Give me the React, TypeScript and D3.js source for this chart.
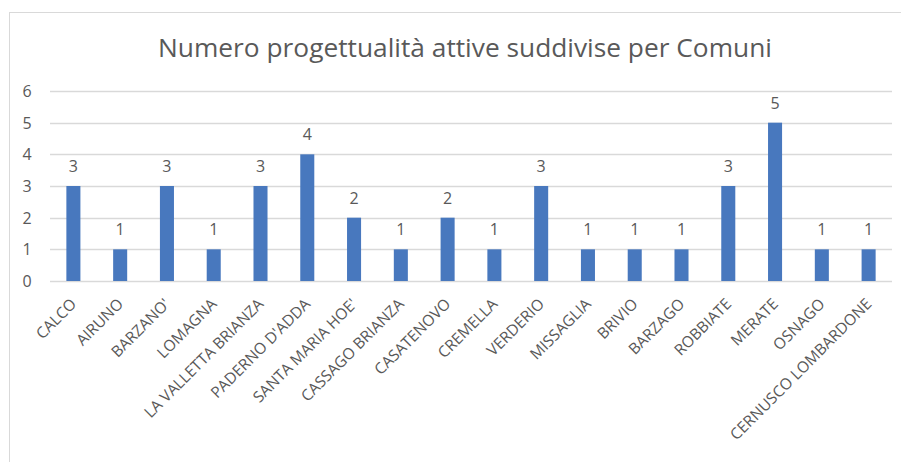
import React from "react";
import * as d3 from "d3";

const categories: string[] = [
  "CALCO", "AIRUNO", "BARZANO'", "LOMAGNA", "LA VALLETTA BRIANZA", "PADERNO D'ADDA",
  "SANTA MARIA HOE'", "CASSAGO BRIANZA", "CASATENOVO", "CREMELLA", "VERDERIO",
  "MISSAGLIA", "BRIVIO", "BARZAGO", "ROBBIATE", "MERATE", "OSNAGO", "CERNUSCO LOMBARDONE",
];
const values: number[] = [3, 1, 3, 1, 3, 4, 2, 1, 2, 1, 3, 1, 1, 1, 3, 5, 1, 1];
const yTicks: number[] = [0, 1, 2, 3, 4, 5, 6];
const title = "Numero progettualità attive suddivise per Comuni";

const W = 901;
const H = 462;
const FONT = "'Open Sans', 'Noto Sans', sans-serif";
const TEXT = "#595959";

export default function App() {
  const x = d3.scaleBand<string>().domain(categories).range([50, 892]).paddingInner(0.7).paddingOuter(0.35);
  const y = d3.scaleLinear().domain([0, 6]).range([281, 91]);
  const data = categories.map((c, i) => ({ c, v: values[i] }));
  return (
    <svg width={W} height={H} style={{ position: "absolute", left: 0, top: 0, background: "#fff" }}>
      <rect x={0} y={0} width={W} height={H} fill="#fff" />
      <line x1={9} x2={W} y1={12.5} y2={12.5} stroke="#d9d9d9" />
      <line x1={9.5} x2={9.5} y1={12} y2={H} stroke="#d9d9d9" />
      <text x={465} y={57} textAnchor="middle" fontFamily={FONT} fontSize={26.3} fill={TEXT}>{title}</text>
      {yTicks.map((t) => (
        <g key={t}>
          <line x1={50} x2={892} y1={Math.round(y(t)) + 0.5} y2={Math.round(y(t)) + 0.5} stroke="#d9d9d9" strokeWidth={1.3} />
          <text x={27} y={y(t) + 6} textAnchor="middle" fontFamily={FONT} fontSize={16} fill={TEXT}>{t}</text>
        </g>
      ))}
      {data.map((d) => (
        <g key={d.c}>
          <rect x={x(d.c)} y={y(d.v)} width={x.bandwidth()} height={y(0) - y(d.v)} fill="#4878BE" />
          <text x={(x(d.c) as number) + x.bandwidth() / 2} y={y(d.v) - 14} textAnchor="middle" fontFamily={FONT} fontSize={16} fill={TEXT}>{d.v}</text>
        </g>
      ))}
      {data.map((d) => {
        const cx = (x(d.c) as number) + x.bandwidth() / 2 + 4;
        const cy = 305;
        return (
          <text key={"l" + d.c} x={cx} y={cy} transform={`rotate(-45 ${cx} ${cy})`} textAnchor="end" fontFamily={FONT} fontSize={15.5} fill={TEXT}>{d.c}</text>
        );
      })}
    </svg>
  );
}
